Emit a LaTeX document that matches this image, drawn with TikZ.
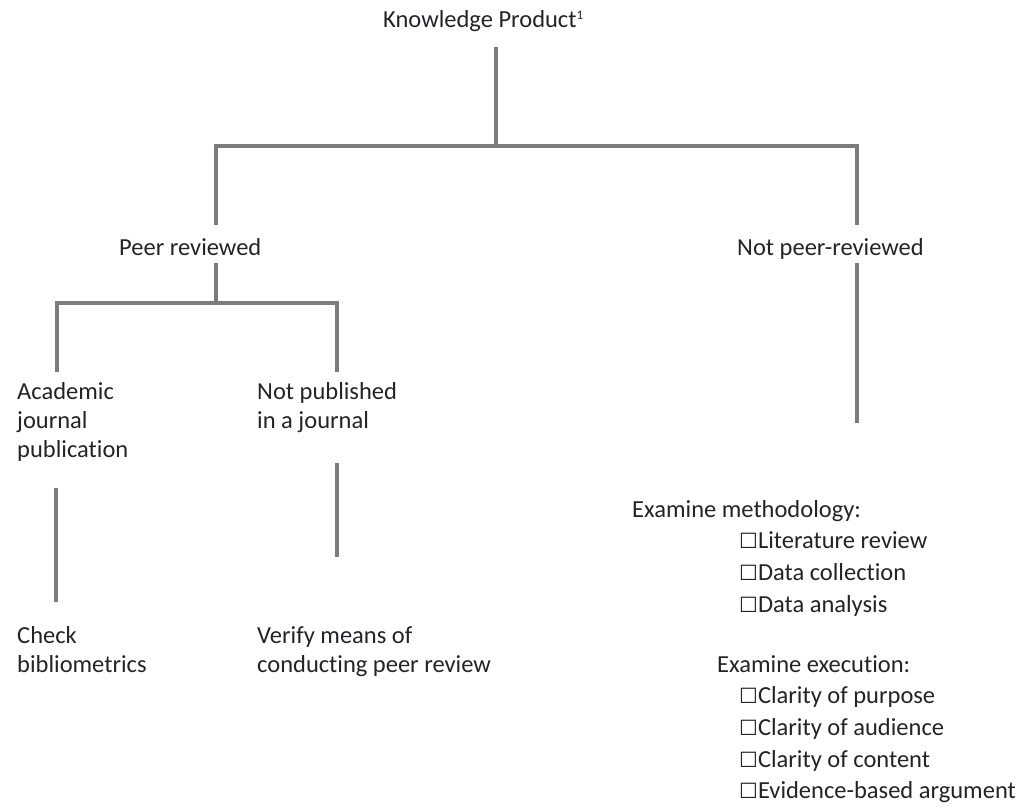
\documentclass[tikz,border=0pt]{standalone}
\usepackage{fontspec}
\setmainfont[Ligatures=NoCommon]{Carlito}
\newfontfamily\boxfont{DejaVu Sans}
\usetikzlibrary{positioning}
\definecolor{linegray}{RGB}{124,124,128}
\definecolor{textdark}{RGB}{35,35,40}

\newcommand{\ballot}{{\boxfont\fontsize{21}{21}\selectfont ☐}}
\newcommand{\fnmark}[1]{{\fontsize{13}{13}\selectfont\raisebox{8pt}{#1}}}

\begin{document}
\begin{tikzpicture}[x=1pt,y=-1pt,
  branch/.style={draw=linegray, line width=4pt},
  lbl/.style={anchor=base west, inner sep=0pt, text=textdark, align=left,
    font=\fontsize{24.5}{29}\selectfont},
  item/.style={lbl}
]
\useasboundingbox (0,0) rectangle (1025,806);

% top level
\node[lbl] (kp) at (383,27) {Knowledge Product\fnmark{1}};
\node[lbl] (peer) at (119,255) {Peer reviewed};
\node[lbl] (notpeer) at (737,255) {Not peer-reviewed};

% peer reviewed branch (placed by the last line)
\node[lbl] (acad) at (17,457) {Academic\\journal\\publication};
\node[lbl] (notpub) at (257,428) {Not published\\in a journal};
\node[lbl] (check) at (17,672) {Check\\bibliometrics};
\node[lbl] (verify) at (257,672) {Verify means of\\conducting peer review};

% not peer reviewed branch
\node[lbl] (exmeth) at (632,517) {Examine methodology:};
\node[item] (lit) at (739,548) {\ballot Literature review};
\node[item] (coll) at (739,580) {\ballot Data collection};
\node[item] (anal) at (739,612) {\ballot Data analysis};
\node[lbl] (exexec) at (717,672) {Examine execution:};
\node[item] (purp) at (739,703) {\ballot Clarity of purpose};
\node[item] (aud) at (739,735) {\ballot Clarity of audience};
\node[item] (cont) at (739,767) {\ballot Clarity of content};
\node[item] (evid) at (739,798) {\ballot Evidence-based argument};

% joints and line ends
\coordinate (kp-out) at (496,47);
\coordinate (split) at (496,146);
\coordinate (peer-in) at (216,225);
\coordinate (notpeer-in) at (857,225);
\coordinate (peer-out) at (216,263);
\coordinate (psplit) at (216,303);
\coordinate (acad-in) at (57,372);
\coordinate (notpub-in) at (337,372);
\coordinate (acad-out) at (56,488);
\coordinate (check-in) at (56,602);
\coordinate (notpub-out) at (337,463);
\coordinate (verify-in) at (337,557);
\coordinate (notpeer-out) at (857,263);
\coordinate (exmeth-in) at (857,423);

\draw[branch] (kp-out) -- (split);
\draw[branch] (peer-in) |- (split) -| (notpeer-in);
\draw[branch] (peer-out) -- (psplit);
\draw[branch] (acad-in) |- (psplit) -| (notpub-in);
\draw[branch] (acad-out) -- (check-in);
\draw[branch] (notpub-out) -- (verify-in);
\draw[branch] (notpeer-out) -- (exmeth-in);
\end{tikzpicture}
\end{document}
